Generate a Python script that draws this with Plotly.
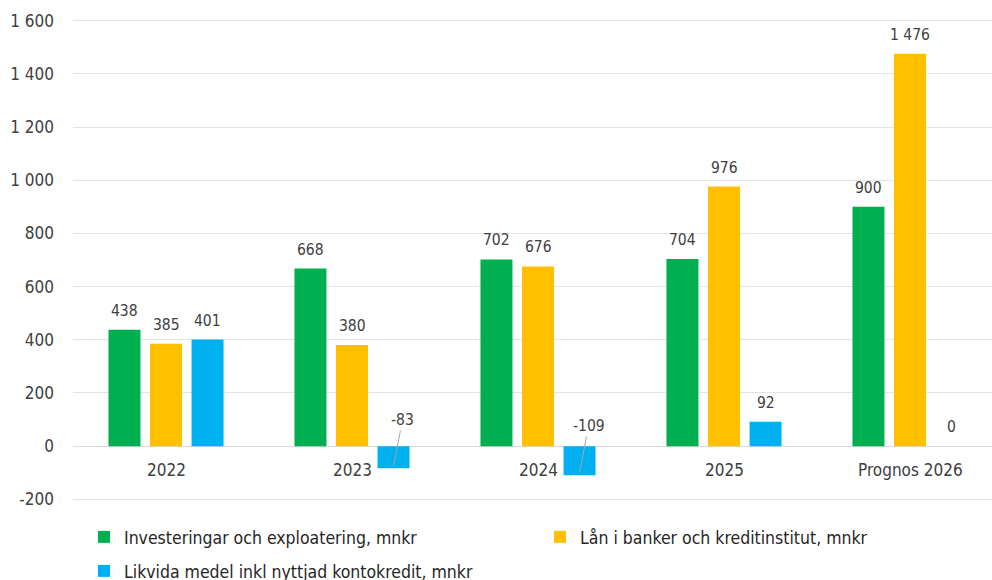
import plotly.graph_objects as go

categories = ["2022", "2023", "2024", "2025", "Prognos 2026"]
investeringar = [438, 668, 702, 704, 900]
lan = [385, 380, 676, 976, 1476]
likvida = [401, -83, -109, 92, 0]
series_names = [
    "Investeringar och exploatering, mnkr",
    "Lån i banker och kreditinstitut, mnkr",
    "Likvida medel inkl nyttjad kontokredit, mnkr",
]
colors = ["#00B050", "#FFC000", "#00B0F0"]
y_ticks = [-200, 0, 200, 400, 600, 800, 1000, 1200, 1400, 1600]

FONT = "DejaVu Sans Condensed, DejaVu Sans, sans-serif"
TXT = "#404040"
BARGAP = 0.33

def fmt(v):
    return f"{v:,}".replace(",", " ")

fig = go.Figure()
all_series = [investeringar, lan, likvida]
legend_ids = ["legend", "legend2", "legend3"]
for k, (name, vals, col) in enumerate(zip(series_names, all_series, colors)):
    fig.add_trace(go.Bar(
        x=list(range(len(categories))), y=vals, name=name,
        marker=dict(color=col, line=dict(width=0)),
        legend=legend_ids[k],
    ))

annotations = []
slot = (1 - BARGAP) / 3
for k, vals in enumerate(all_series):
    off = (k - 1) * slot
    for i, v in enumerate(vals):
        if v >= 0:
            annotations.append(dict(
                x=i + off, y=v, xref="x", yref="y", text=fmt(v),
                showarrow=False, yanchor="bottom", yshift=8,
                font=dict(family=FONT, size=15.5, color=TXT)))
        else:
            annotations.append(dict(
                x=i + off, y=v * 0.9, xref="x", yref="y", text=fmt(v),
                showarrow=True, arrowhead=0, arrowwidth=1, arrowcolor="#A6A6A6",
                ax=9, ay=-46, standoff=0,
                font=dict(family=FONT, size=15.5, color=TXT)))

for i, c in enumerate(categories):
    annotations.append(dict(
        x=i, y=0, xref="x", yref="y", text=c, showarrow=False,
        yanchor="middle", yshift=-24,
        font=dict(family=FONT, size=17, color=TXT)))

leg_font = dict(family=FONT, size=17.5, color="#262626")
leg_common = dict(xref="container", yref="container", xanchor="left", yanchor="middle",
                  font=leg_font, itemwidth=30, bgcolor="rgba(0,0,0,0)")
fig.update_layout(
    width=992, height=580,
    margin=dict(l=73, r=0, t=18, b=78, autoexpand=False),
    paper_bgcolor="white", plot_bgcolor="white",
    barmode="group", bargap=BARGAP, bargroupgap=0.23,
    font=dict(family=FONT, color=TXT),
    showlegend=True,
    legend=dict(x=84 / 992, y=(580 - 537) / 580, **leg_common),
    legend2=dict(x=540 / 992, y=(580 - 537) / 580, **leg_common),
    legend3=dict(x=84 / 992, y=(580 - 571) / 580, **leg_common),
    xaxis=dict(range=[-0.5, -0.5 + 919 / 186], showticklabels=False, showgrid=False,
               zeroline=False, showline=False, ticks=""),
    yaxis=dict(range=[-210, 1610], tickvals=y_ticks, ticktext=[fmt(t) for t in y_ticks],
               showgrid=True, gridcolor="#E4E4E4", gridwidth=1,
               zeroline=True, zerolinecolor="#D9D9D9", zerolinewidth=1,
               showline=False, ticks="", ticklabelstandoff=18,
               tickfont=dict(family=FONT, size=17, color=TXT)),
    annotations=annotations,
)

fig.write_html("out.html", config={"displayModeBar": False},
               post_script="document.body.style.margin='0';")
